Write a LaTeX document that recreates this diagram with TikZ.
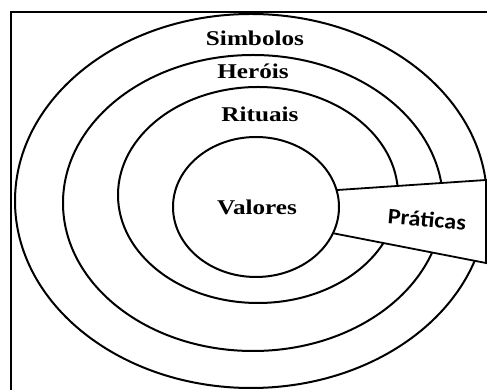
\documentclass[tikz,border=0pt]{standalone}
\usepackage{fontspec}
\usetikzlibrary{calc}
\newfontfamily\ringfont[FakeStretch=1.2]{Liberation Serif}
\newfontfamily\pracfont[FakeStretch=1.1]{Carlito}
\tikzset{
  ring/.style={draw=black,line width=2pt},                 % onion layer
  ringlbl/.style={font=\ringfont\bfseries\fontsize{21}{22}\selectfont,inner sep=0pt},
  praclbl/.style={font=\pracfont\bfseries\fontsize{22}{24}\selectfont,inner sep=0pt,rotate=-5},
  wedge/.style={draw=black,line width=1.8pt,fill=white},
  frame/.style={draw=black,line width=2pt},
}

\begin{document}
\begin{tikzpicture}[x=1pt,y=1pt]
  \useasboundingbox (0,0) rectangle (487,390);
  \clip (0,0) rectangle (487,390);
  \draw[frame] (11,-5) -- (11,378) -- (495,378);
  % rings, outer to inner
  \draw[ring] (251,189) ellipse [x radius=236,y radius=187];
  \draw[ring] (253,187) ellipse [x radius=190,y radius=148];
  \draw[ring] (258,195) ellipse [x radius=140,y radius=108];
  % practices wedge cuts through the outer rings
  \coordinate (vc) at (256,183);
  \coordinate (wtl) at ($(vc)+(14:83 and 70)$);
  \coordinate (wbl) at ($(vc)+(-22:83 and 70)$);
  \coordinate (wtr) at (486,210);
  \coordinate (wbr) at (486,127);
  \fill[white] (wtl) -- (wtr) -- (wbr) -- (wbl) -- cycle;
  \draw[wedge] (wtl) -- (wtr) -- (wbr) -- (wbl);
  \draw[ring] (vc) ellipse [x radius=83,y radius=70];
  % labels
  \node[ringlbl] (simb) at (255,352) {Simbolos};
  \node[ringlbl] (hero) at (253,319) {Heróis};
  \node[ringlbl] (ritu) at (260,276) {Rituais};
  \node[ringlbl] (valo) at (257,183) {Valores};
  \node[praclbl] (prat) at (427,171) {Práticas};
\end{tikzpicture}
\end{document}
